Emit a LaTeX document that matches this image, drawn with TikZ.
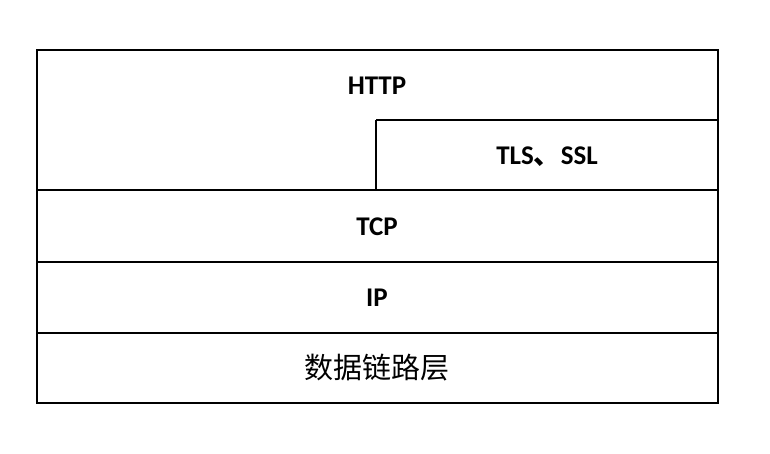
\documentclass[tikz,border=0pt]{standalone}
\usepackage{fontspec}
\setmainfont{Carlito}
\newfontfamily\cjk{Noto Sans CJK SC}
\tikzset{every picture/.style={line width=1.2pt}}
\tikzset{layer/.style={anchor=center,inner sep=0.75pt,font=\fontsize{27}{32}\selectfont\bfseries}}
\begin{document}
\begin{tikzpicture}[x=1pt,y=1pt,yscale=-1,xscale=1]
\useasboundingbox (0,0) rectangle (770,453);

%Shape: Rectangle [id:outer]
\draw (37,50) rectangle (718,403);
%Straight Lines [id:tls top]
\draw (376,120) -- (718,120);
%Straight Lines [id:tls left]
\draw (376,120) -- (376,190);
%Straight Lines [id:tcp top]
\draw (37,190) -- (718,190);
%Straight Lines [id:ip top]
\draw (37,262) -- (718,262);
%Straight Lines [id:link top]
\draw (37,333) -- (718,333);

% Text Node
\node (http) at (377,86) [layer] {HTTP};
% Text Node
\node (tls) at (547,157) [layer] {TLS{\cjk 、}SSL};
% Text Node
\node (tcp) at (377,227) [layer] {TCP};
% Text Node
\node (ip) at (377,298) [layer] {IP};
% Text Node
\node (link) at (377,368) [layer,font=\cjk\fontsize{29}{34}\selectfont] {数据链路层};

\end{tikzpicture}
\end{document}
